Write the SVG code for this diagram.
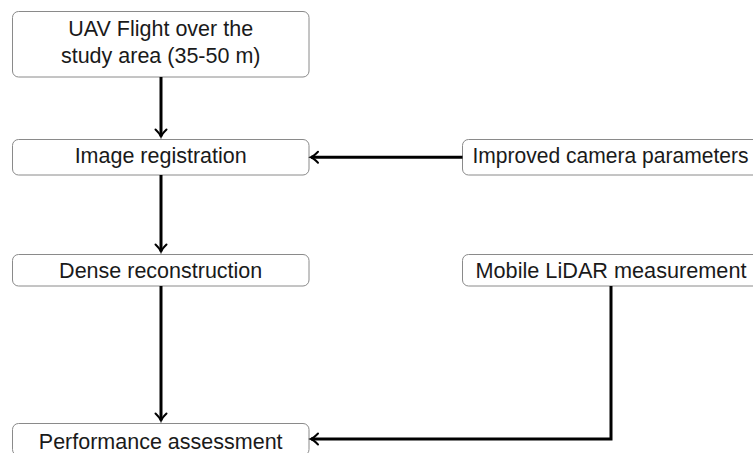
<svg xmlns="http://www.w3.org/2000/svg" width="753" height="453" viewBox="0 0 753 453">
<style>
.box{fill:#fff;stroke:#8a8a8a;stroke-width:1}
.t{font-family:"Liberation Sans",Arial,sans-serif;font-size:21.5px;fill:#1a1a1a;text-anchor:middle}
.c{fill:none;stroke:#000;stroke-width:3}
</style>
<defs>
<marker id="ah" markerUnits="userSpaceOnUse" markerWidth="14" markerHeight="14" refX="0" refY="0" viewBox="-10 -7 12 14" orient="auto" overflow="visible">
<path d="M-7,-5.5 Q-2.5,-1 0,0 Q-2.5,1 -7,5.5" fill="none" stroke="#000" stroke-width="2" stroke-linecap="round"/>
</marker>
</defs>
<rect width="753" height="453" fill="#fff"/>
<g id="n1">
<rect class="box" x="12.5" y="11.5" width="296.5" height="65.5" rx="6"/>
<text class="t" x="160.7" y="36">UAV Flight over the</text>
<text class="t" x="160.7" y="63">study area (35-50 m)</text>
</g>
<g id="n2">
<rect class="box" x="12.5" y="139.5" width="296.5" height="35.5" rx="6"/>
<text class="t" x="160.7" y="163">Image registration</text>
</g>
<g id="n3">
<rect class="box" x="462.5" y="139.5" width="297" height="35.5" rx="6"/>
<text class="t" x="610.5" y="163" textLength="276" lengthAdjust="spacingAndGlyphs">Improved camera parameters</text>
</g>
<g id="n4">
<rect class="box" x="12.5" y="254.5" width="296.5" height="31.5" rx="6"/>
<text class="t" x="160.7" y="278">Dense reconstruction</text>
</g>
<g id="n5">
<rect class="box" x="462.5" y="254.5" width="297" height="31.5" rx="6"/>
<text class="t" x="611" y="277.5" textLength="271" lengthAdjust="spacingAndGlyphs">Mobile LiDAR measurement</text>
</g>
<g id="n6">
<rect class="box" x="12.5" y="423.5" width="296.5" height="32" rx="6"/>
<text class="t" x="160.7" y="449">Performance assessment</text>
</g>
<g id="connectors">
<line class="c" x1="161" y1="77" x2="161" y2="136.5" marker-end="url(#ah)"/>
<line class="c" x1="462.5" y1="157.3" x2="311" y2="157.3" marker-end="url(#ah)"/>
<line class="c" x1="161" y1="175" x2="161" y2="251.5" marker-end="url(#ah)"/>
<line class="c" x1="161" y1="286" x2="161" y2="420.5" marker-end="url(#ah)"/>
<polyline class="c" points="611,286 611,439 311,439" marker-end="url(#ah)"/>
</g>
</svg>
